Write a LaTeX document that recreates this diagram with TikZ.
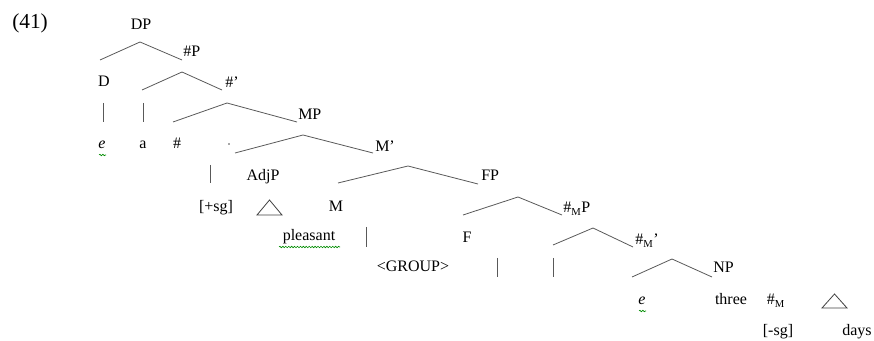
\documentclass[tikz,border=0pt]{standalone}
\usepackage{fontspec}
\setmainfont{Liberation Serif}
\usetikzlibrary{decorations.pathmorphing}
\begin{document}
\begin{tikzpicture}[x=0.75pt,y=-0.75pt,
  lbl/.style={anchor=base,inner sep=0pt,font=\fontsize{12}{14}\selectfont},
  lbll/.style={anchor=base west,inner sep=0pt,font=\fontsize{12}{14}\selectfont},
  br/.style={draw=black!65,line width=0.6pt},
  tri/.style={draw=black!75,line width=0.6pt},
  squig/.style={draw=green!55!black,line width=0.45pt,decorate,decoration={snake,amplitude=0.55pt,segment length=2.2pt}}]
\useasboundingbox (0,0) rectangle (874,341);
% labels
\node[anchor=base west,inner sep=0pt,font=\fontsize{16}{18}\selectfont] (num) at (12,29) {(41)};
\node[lbl] (DP) at (141,30) {DP};
\node[lbll] (hP) at (183,57) {\#P};
\node[lbl] (D) at (104,87) {D};
\node[lbll] (hbar) at (225,88) {\#’};
\node[lbll] (MP) at (298,120) {MP};
\node[lbl] (e1) at (102,149) {\textit{e}};
\node[lbl] (a) at (143,149) {a};
\node[lbl] (h) at (177,149) {\#};
\node[circle,fill=black!70,inner sep=0pt,minimum size=1.3pt] (dot) at (229,144) {};
\node[lbll] (Mbar) at (375,152) {M’};
\node[lbl] (AdjP) at (263,181) {AdjP};
\node[lbll] (FP) at (481,181) {FP};
\node[lbl] (psg) at (216,212) {[+sg]};
\node[lbl] (M) at (336,212) {M};
\node[lbll] (hMP) at (563,213) {\#\textsubscript{M}P};
\node[lbl] (pleasant) at (309,241) {pleasant};
\node[lbl] (F) at (467,243) {F};
\node[lbll] (hMbar) at (635,245) {\#\textsubscript{M}’};
\node[lbl] (GROUP) at (413,272) {<GROUP>};
\node[lbll] (NP) at (713,273) {NP};
\node[lbl] (e2) at (642,305) {\textit{e}};
\node[lbl] (three) at (731,305) {three};
\node[lbl] (hM) at (776,305) {\#\textsubscript{M}};
\node[lbl] (msg) at (778,336) {[-sg]};
\node[lbl] (days) at (857,336) {days};
% branch points
\coordinate (DPl) at (100,60); \coordinate (DPt) at (140,42); \coordinate (DPr) at (182,60);
\coordinate (hPl) at (142,90); \coordinate (hPt) at (182,72); \coordinate (hPr) at (222,90);
\coordinate (hbl) at (173,122); \coordinate (hbt) at (227,103); \coordinate (hbr) at (297,122);
\coordinate (MPl) at (235,153); \coordinate (MPt) at (303,135); \coordinate (MPr) at (373,153);
\coordinate (Mbl) at (338,183); \coordinate (Mbt) at (408,166); \coordinate (Mbr) at (478,184);
\coordinate (FPl) at (463,215); \coordinate (FPt) at (518,197); \coordinate (FPr) at (562,215);
\coordinate (hMPl) at (553,245); \coordinate (hMPt) at (593,228); \coordinate (hMPr) at (633,247);
\coordinate (hMbl) at (632,277); \coordinate (hMbt) at (672,259); \coordinate (hMbr) at (712,277);
\draw[br] (DPl) -- (DPt) -- (DPr);
\draw[br] (hPl) -- (hPt) -- (hPr);
\draw[br] (hbl) -- (hbt) -- (hbr);
\draw[br] (MPl) -- (MPt) -- (MPr);
\draw[br] (Mbl) -- (Mbt) -- (Mbr);
\draw[br] (FPl) -- (FPt) -- (FPr);
\draw[br] (hMPl) -- (hMPt) -- (hMPr);
\draw[br] (hMbl) -- (hMbt) -- (hMbr);
% vertical bars
\coordinate (v1a) at (103,103); \coordinate (v1b) at (103,122);
\coordinate (v2a) at (143,103); \coordinate (v2b) at (143,122);
\coordinate (v3a) at (210,165); \coordinate (v3b) at (210,183);
\coordinate (v4a) at (366,227); \coordinate (v4b) at (366,247);
\coordinate (v5a) at (497,258); \coordinate (v5b) at (497,277);
\coordinate (v6a) at (553,258); \coordinate (v6b) at (553,277);
\draw[br] (v1a) -- (v1b);
\draw[br] (v2a) -- (v2b);
\draw[br] (v3a) -- (v3b);
\draw[br] (v4a) -- (v4b);
\draw[br] (v5a) -- (v5b);
\draw[br] (v6a) -- (v6b);
% triangles
\draw[tri] (257,215) -- (269.5,200) -- (282,215) -- cycle;
\draw[tri] (822,308) -- (834.5,294) -- (847,308) -- cycle;
% spell-check squiggles
\draw[squig] (99,155) -- (106,155);
\draw[squig] (639,311) -- (646,311);
\draw[squig] (279,247) -- (340,247);
\end{tikzpicture}
\end{document}
